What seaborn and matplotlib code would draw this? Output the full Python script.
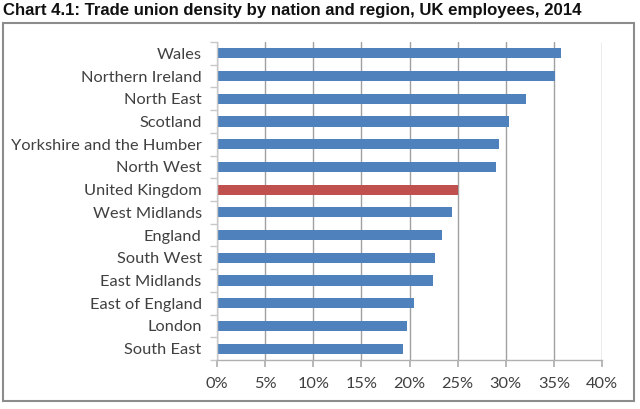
import matplotlib
matplotlib.use("Agg")
import matplotlib.pyplot as plt
import seaborn as sns
import numpy as np
import pandas as pd
from matplotlib.patches import Rectangle
from matplotlib.ticker import FuncFormatter, FixedLocator

regions = ["Wales", "Northern Ireland", "North East", "Scotland",
           "Yorkshire and the Humber", "North West", "United Kingdom",
           "West Midlands", "England", "South West", "East Midlands",
           "East of England", "London", "South East"]
density = [35.7, 35.1, 32.1, 30.3, 29.3, 29.0, 25.0,
           24.4, 23.4, 22.6, 22.4, 20.5, 19.7, 19.3]
xticks = [0, 5, 10, 15, 20, 25, 30, 35, 40]

blue = "#4F81BD"
red = "#C0504D"
palette = [red if r == "United Kingdom" else blue for r in regions]

sns.set_theme(style="white")
plt.rcParams['font.family'] = ['Lato', 'DejaVu Sans']

df = pd.DataFrame({"region": regions, "density": density})

fig = plt.figure(figsize=(6.4, 4.09), dpi=100)
ax = fig.add_axes([217/640, 1-360/409, (602-217)/640, (360-42)/409])

sns.barplot(data=df, x="density", y="region", hue="region", palette=palette,
            legend=False, width=0.45, ax=ax, saturation=1, edgecolor="none")

ax.set_xlim(0, 40)
ax.set_ylim(len(regions)-0.5, -0.5)
ax.xaxis.set_major_locator(FixedLocator(xticks))
ax.xaxis.set_major_formatter(FuncFormatter(lambda v, p: f"{v:.0f}%"))
ax.grid(axis="x", color="#a0a0a0", linewidth=1.0)
ax.set_axisbelow(True)
ax.set_xlabel("")
ax.set_ylabel("")

for s in ["top", "right"]:
    ax.spines[s].set_visible(False)
ax.spines["bottom"].set_color("#b0b0b0")
ax.spines["bottom"].set_linewidth(1.0)
ax.spines["left"].set_color("#c8c8c8")
ax.spines["left"].set_linewidth(1.0)

ax.tick_params(axis="x", which="major", bottom=True, length=5, color="#b0b0b0",
               labelsize=11.8, labelcolor="#404040", pad=7)
ax.tick_params(axis="y", which="major", left=False, labelsize=11.8,
               labelcolor="#404040", pad=5)
ax.yaxis.set_minor_locator(FixedLocator(np.arange(-0.5, len(regions), 1.0)))
ax.tick_params(axis="y", which="minor", left=True, length=5, color="#c8c8c8")

fig.text(3/640, 1-10/409, "Chart 4.1: Trade union density by nation and region, UK employees, 2014",
         fontsize=12.1, fontweight="bold", family=["Liberation Sans", "DejaVu Sans"],
         color="#111111", va="center", ha="left")

fig.patches.append(Rectangle((3/640, 1-401/409), 631/640, 378/409,
                             transform=fig.transFigure, fill=False,
                             edgecolor="#8c8c8c", linewidth=1.5))

fig.savefig("out.png", dpi=100)
